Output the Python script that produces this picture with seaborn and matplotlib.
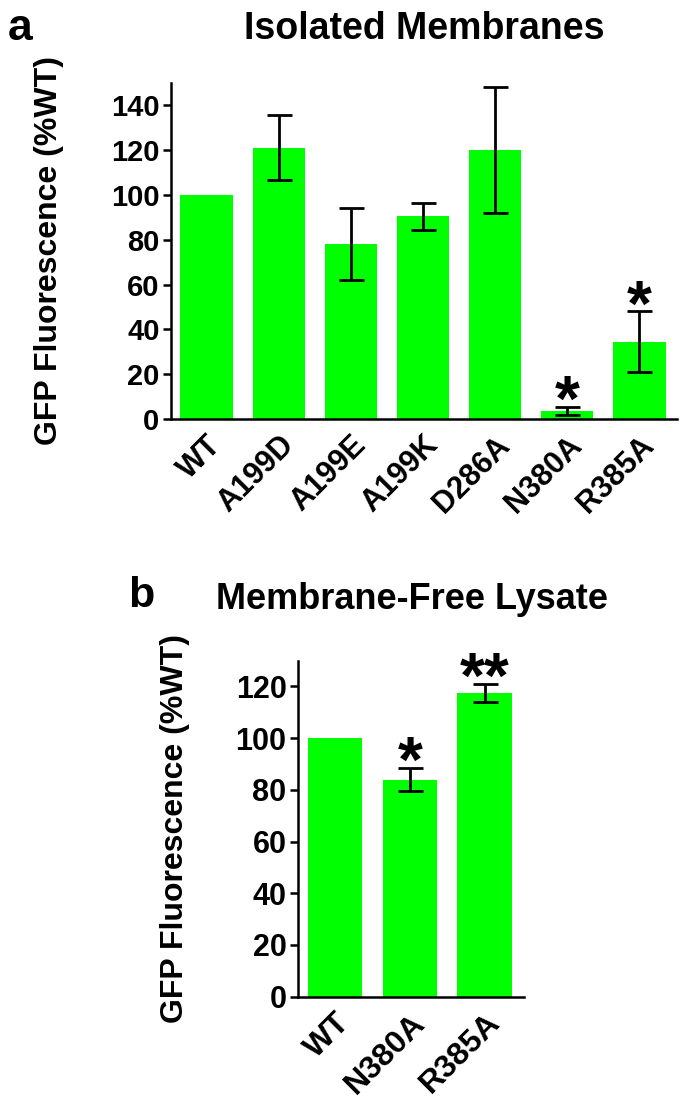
import numpy as np
import pandas as pd
import matplotlib
matplotlib.use("Agg")
import matplotlib.pyplot as plt
import seaborn as sns

# Panel a: isolated membranes
mem_labels = ["WT", "A199D", "A199E", "A199K", "D286A", "N380A", "R385A"]
mem_values = [100, 121, 78, 90.5, 120, 3.7, 34.5]
mem_err = [0, 14.5, 16, 6, 28, 1.7, 13.5]
mem_stars = ["", "", "", "", "", "*", "*"]

# Panel b: membrane-free lysate
lys_labels = ["WT", "N380A", "R385A"]
lys_values = [100, 84, 117.5]
lys_err = [0, 4.5, 3.5]
lys_stars = ["", "*", "**"]

sns.set_style("ticks")
plt.rcParams["font.family"] = ["Liberation Sans", "DejaVu Sans"]
plt.rcParams["font.weight"] = "bold"
for key in ["text.color", "axes.labelcolor", "xtick.color", "ytick.color",
            "axes.edgecolor"]:
    plt.rcParams[key] = "black"

GREEN = "#00ff00"

fig = plt.figure(figsize=(6.85, 11.08), dpi=100)


def panel(ax, labels, values, err, stars, ymax, yticks, ysize, xsize, ylab_x):
    df = pd.DataFrame({"cond": labels, "val": values})
    sns.barplot(data=df, x="cond", y="val", color=GREEN, width=0.73,
                saturation=1, errorbar=None, ax=ax, edgecolor="none")
    x = np.arange(len(labels))
    e = np.array(err, dtype=float)
    mask = e > 0
    ax.errorbar(x[mask], np.array(values)[mask], yerr=e[mask], fmt="none",
                ecolor="black", elinewidth=2, capsize=9, capthick=2)
    for xi, v, ee, s in zip(x, values, err, stars):
        if s:
            ax.annotate(s, xy=(xi, v + ee), xytext=(0, -10),
                        textcoords="offset points", ha="center",
                        va="baseline", fontsize=46, fontweight="bold")
    ax.set_xlim(-0.5, len(labels) - 0.48)
    ax.set_ylim(0, ymax)
    ax.set_yticks(yticks)
    ax.set_xlabel("")
    ax.set_ylabel("GFP Fluorescence (%WT)", fontsize=23, fontweight="bold")
    ax.yaxis.set_label_coords(ylab_x, 0.5)
    sns.despine(ax=ax)
    for sp in ["left", "bottom"]:
        ax.spines[sp].set_linewidth(1.8)
        ax.spines[sp].set_color("black")
    ax.tick_params(axis="y", width=1.8, length=6, labelsize=ysize, pad=2)
    ax.tick_params(axis="x", length=0, labelsize=xsize, pad=8)
    for t in ax.get_yticklabels():
        t.set_fontweight("bold")
    for t in ax.get_xticklabels():
        t.set_fontweight("bold")
        t.set_rotation(45)
        t.set_ha("right")
        t.set_rotation_mode("anchor")


ax_a = fig.add_axes([0.2492, 0.6218, 0.7387, 0.3035])
panel(ax_a, mem_labels, mem_values, mem_err, mem_stars, 150,
      range(0, 141, 20), 21, 22, -0.21)

ax_b = fig.add_axes([0.4346, 0.1005, 0.3297, 0.3033])
panel(ax_b, lys_labels, lys_values, lys_err, lys_stars, 130,
      range(0, 121, 20), 22, 23, -0.478)

fig.text(0.012, 0.974, "a", fontsize=32, fontweight="bold", va="center")
fig.text(0.619, 0.974, "Isolated Membranes", fontsize=27, fontweight="bold",
         ha="center", va="center")
fig.text(0.187, 0.462, "b", fontsize=31, fontweight="bold", va="center")
fig.text(0.316, 0.4585, "Membrane-Free Lysate", fontsize=26,
         fontweight="bold", ha="left", va="center")

fig.savefig("out.png", dpi=100)
